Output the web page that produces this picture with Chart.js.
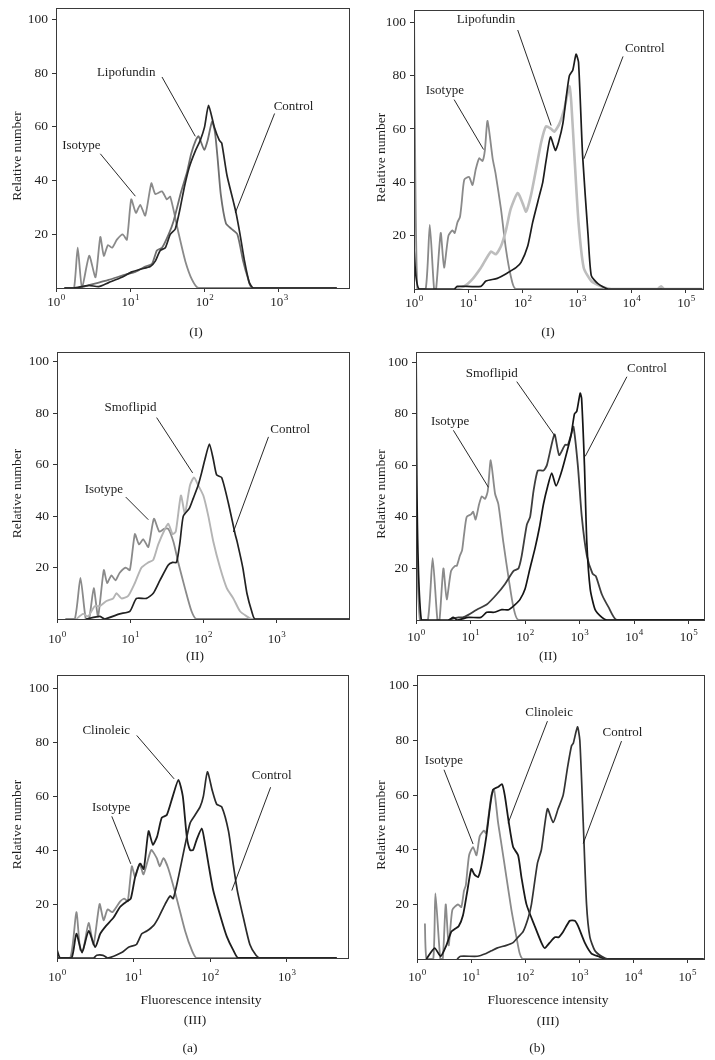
<!DOCTYPE html>
<html>
<head>
<meta charset="utf-8">
<script src="https://cdn.jsdelivr.net/npm/chart.js@4.4.0/dist/chart.umd.min.js"></script>
<style>
  body { margin: 0; background: #fff; width: 715px; height: 1060px; position: relative; overflow: hidden; }
  canvas { position: absolute; }
</style>
</head>
<body>
<canvas id="a1"></canvas>
<canvas id="b1"></canvas>
<canvas id="a2"></canvas>
<canvas id="b2"></canvas>
<canvas id="a3"></canvas>
<canvas id="b3"></canvas>
<script>
// tick values
const aTicks = [1, 10, 100, 1000];
const bTicks = [1, 10, 100, 1000, 10000, 100000];
const yTicks = [20, 40, 60, 80, 100];

// (a) I - Lipofundin
const a1IsoX = [1.3, 1.5, 1.75, 1.96, 2.24, 2.8, 3.4, 3.95, 4.4, 5.0, 5.7, 6.6, 7.9, 9.0, 10.3, 11.9, 13.6, 15.9, 19.2, 21.7, 26.7, 31, 34.5, 45, 55, 68, 83, 6000];
const a1IsoY = [0, 0, 0, 15, 0, 12, 4, 19, 12, 16, 15, 18, 20, 18, 33, 28, 31, 27, 39, 35, 36, 33, 34, 20, 10, 3, 0, 0];
const a1LipoX = [1.3, 2.0, 2.75, 5.1, 8.6, 11.7, 15.9, 19.6, 22.8, 26.7, 32.8, 38.3, 48.5, 57.8, 66, 76, 83, 99, 110, 126, 138, 150, 165, 194, 230, 276, 330, 380, 437, 6000];
const a1LipoY = [0, 0, 1, 3, 5, 6, 8, 9, 14, 15, 20, 25, 36, 43, 50, 55, 56.5, 51.5, 55, 62, 58, 48, 35, 24, 22, 20, 10, 4, 0, 0];
const a1CtrlX = [1.3, 1.73, 2.75, 3.75, 5.1, 7.7, 10.5, 13.6, 18.6, 21.7, 25.3, 29.6, 34.5, 40.3, 47.1, 53.8, 62.2, 74.9, 87.4, 100, 113, 135, 158, 170, 200, 245, 265, 300, 345, 400, 456, 6000];
const a1CtrlY = [0, 0, 1, 0.5, 2, 4, 6, 7, 8, 10, 14, 15, 20, 22, 30, 38, 45, 51, 55, 60, 68, 60, 55, 54, 42, 32, 28, 20, 10, 2, 0, 0];

// (b) I - Lipofundin
const b1IsoX = [1, 1.15, 1.64, 1.95, 2.34, 2.55, 3.1, 3.57, 4.3, 5.1, 5.6, 6.3, 7.0, 7.5, 8.4, 10.3, 11.9, 13.7, 15.8, 18.2, 20.1, 22.5, 27.9, 31.8, 39.7, 49, 60, 74.5, 200000];
const b1IsoY = [105, 0, 0, 24, 0, 0, 21, 8, 20, 22, 21, 25, 27, 32, 41, 42, 39, 45, 49, 48, 52, 63, 49, 43, 30, 15, 5, 0, 0];
const b1LipoX = [5.5, 8.3, 11.1, 17, 25.9, 32, 39.7, 49, 60, 80.7, 100, 115, 141, 176, 218, 268, 332, 382, 473, 588, 720, 780, 890, 1060, 1320, 1820, 2770, 4250, 30000, 35000, 40000, 200000];
const b1LipoY = [0, 1, 3, 8, 14, 13, 16, 22, 30, 36, 32, 29, 35, 45, 55, 61, 60, 59, 62, 68, 76, 70, 50, 25, 8, 3, 1, 0, 0, 1, 0, 0];
const b1CtrlX = [1, 1.24, 5.5, 6.2, 17, 21, 34, 52, 75, 93, 123, 152, 202, 233, 268, 323, 398, 454, 546, 630, 720, 830, 955, 1060, 1260, 1590, 1820, 2410, 3700, 200000];
const b1CtrlY = [15, 0, 0, 1, 1, 3, 4, 6, 8, 10, 16, 25, 35, 40, 48, 57, 52, 55, 62, 72, 80, 82, 88, 85, 50, 20, 5, 2, 0, 0];

// (a) II - Smoflipid
const a2IsoX = [1.3, 1.75, 2.09, 2.47, 2.75, 3.18, 3.64, 4.36, 4.84, 5.55, 6.3, 7.2, 8.7, 9.9, 11.6, 13.2, 15.1, 17.7, 21.1, 25, 29, 33.2, 39, 45.4, 56, 69, 81, 10000];
const a2IsoY = [0, 0, 16, 0, 0, 12, 1, 19, 14, 17, 15, 18, 20, 19, 33, 29, 31, 28, 39, 34, 35, 35, 30, 22, 12, 3, 0, 0];
const a2SmofX = [1.84, 2.27, 2.66, 3.28, 3.84, 4.74, 5.85, 6.5, 7.6, 9.4, 11.6, 14.3, 17.7, 20.7, 24.2, 29.9, 33.2, 38, 42, 49.4, 56, 65.7, 74.5, 85, 100, 117, 137, 169, 209, 257, 317, 394, 458, 10000];
const a2SmofY = [0, 2, 1, 5, 5, 7, 8, 10, 8, 9, 14, 20, 22, 23, 29, 35, 37, 33, 34, 48, 41, 52, 55, 52, 48, 40, 30, 20, 12, 8, 3, 1, 0, 0];
const a2CtrlX = [2.5, 3.84, 4.5, 7.2, 9.9, 12.2, 16.7, 20.7, 25.5, 33.2, 38, 43, 48, 53.2, 64.3, 73, 85, 95, 105, 121, 137, 152, 178, 220, 272, 290, 346, 394, 458, 510, 10000];
const a2CtrlY = [0, 1, 0, 2, 3, 8, 8, 10, 15, 21, 22, 22, 30, 40, 43, 47, 52, 57, 62, 68, 62, 56, 55, 45, 33, 30, 20, 10, 3, 0, 0];

// (b) II - Smoflipid
const b2IsoX = [1, 1.18, 1.65, 2.02, 2.47, 2.7, 3.18, 3.66, 4.39, 5.2, 5.6, 6.4, 7.0, 7.6, 8.5, 10.2, 11.2, 12.4, 14.4, 16.1, 18.5, 20.7, 23.5, 28.2, 32.4, 40.1, 51, 61.2, 75.8, 200000];
const b2IsoY = [36, 0, 0, 24, 0, 0, 20, 8, 19, 21, 21, 25, 27, 33, 40, 41, 42, 39, 45, 48, 47, 50, 62, 49, 45, 30, 15, 5, 0, 0];
const b2SmofX = [3.9, 6.0, 7.2, 9.1, 13, 19.8, 30.3, 43, 61.2, 75.7, 87, 108, 124, 143, 171, 218, 251, 347, 422, 544, 610, 702, 774, 930, 1100, 1360, 1730, 1990, 2560, 3400, 4830, 200000];
const b2SmofY = [0, 1, 1, 2, 4, 6, 10, 14, 19, 20, 25, 37, 40, 50, 58, 58, 60, 72, 64, 68, 68, 72, 75, 60, 40, 25, 18, 17, 10, 5, 0, 0];
const b2CtrlX = [1, 1.25, 4.0, 4.8, 5.7, 9.1, 15.5, 19.8, 27, 37.4, 50, 65.7, 81, 100, 123, 153, 184, 218, 261, 309, 371, 459, 583, 702, 807, 890, 1026, 1090, 1230, 1360, 1570, 1930, 2570, 3170, 200000];
const b2CtrlY = [105, 0, 0, 1, 0, 1, 1, 3, 3, 4, 4, 6, 8, 12, 20, 28, 36, 45, 52, 57, 52, 57, 65, 72, 80, 81, 88, 86, 60, 30, 12, 4, 1, 0, 0];

// (a) III - Clinoleic
const a3IsoX = [1, 1.49, 1.79, 2.01, 2.2, 2.59, 3.0, 3.6, 4.06, 4.58, 5.3, 6.7, 7.6, 8.4, 9.5, 10.5, 12, 13.5, 17, 20.1, 22, 24.6, 28.6, 36.7, 47.2, 57.6, 67, 4500];
const a3IsoY = [0, 0, 17, 3, 3, 13, 5, 20, 14, 18, 17, 21, 22, 21, 34, 30, 35, 31, 40, 37, 34, 37, 33, 22, 10, 3, 0, 0];
const a3ClinX = [1, 1.1, 1.55, 1.79, 2.12, 2.59, 3.16, 3.67, 4.4, 5.48, 6.7, 8.2, 9.2, 10.5, 12.2, 13.6, 15.7, 17.9, 20.3, 23.4, 27.2, 32.6, 38.6, 44, 49.6, 54.8, 60, 67, 77.9, 84, 95, 110, 138, 165, 200, 234, 4500];
const a3ClinY = [3, 0, 0, 9, 2, 10, 4, 9, 12, 15, 19, 21, 22, 30, 35, 33, 47, 42, 45, 52, 53, 60, 66, 60, 45, 40, 40, 44, 48, 44, 35, 25, 15, 8, 3, 0, 0];
const a3CtrlX = [1, 3.0, 3.3, 4.0, 4.6, 7.0, 8.6, 10.9, 12.8, 14.9, 18.2, 21.2, 25.9, 30.1, 33, 38.6, 47.2, 54.8, 63.7, 74, 81.8, 92.3, 107, 122, 142, 174, 200, 227, 272, 331, 398, 449, 4500];
const a3CtrlY = [0, 0, 1, 1, 0, 2, 4, 5, 9, 10, 12, 15, 20, 23, 22, 30, 42, 50, 53, 56, 60, 69, 62, 57, 56, 47, 35, 25, 15, 5, 1, 0, 0];

// (b) III - Clinoleic
const b3IsoX = [1.4, 1.5, 2.0, 2.19, 2.7, 3.0, 3.4, 3.86, 4.51, 5.74, 6.6, 7.4, 8.0, 9.2, 10.9, 12.6, 14.5, 17.4, 19, 23.8, 26.7, 31.6, 36.5, 45.1, 55.8, 69.2, 79.6, 91.8, 200000];
const b3IsoY = [13, 0, 0, 24, 0, 0, 20, 5, 18, 20, 19, 25, 27, 38, 41, 38, 45, 47, 46, 60, 62, 50, 42, 30, 18, 8, 2, 0, 0];
const b3ClinX = [1.49, 2.12, 2.74, 3.49, 4.32, 4.99, 5.9, 7.1, 8.55, 10.1, 11.5, 13.5, 15.5, 19.2, 22.2, 25.5, 31.6, 37.5, 42, 49.9, 60, 74.2, 85.5, 106, 151, 200, 231, 286, 354, 420, 506, 671, 832, 957, 1270, 1690, 2250, 3200, 200000];
const b3ClinY = [0, 4, 1, 5, 10, 11, 12, 16, 25, 33, 31, 30, 34, 45, 55, 62, 63, 64, 60, 50, 41, 38, 30, 20, 12, 6, 4, 6, 8, 8, 10, 14, 14, 12, 6, 2, 1, 0, 0];
const b3CtrlX = [5.5, 6.4, 13, 19, 23.8, 30, 45, 60, 74.2, 91.8, 114, 131, 169, 200, 259, 330, 408, 506, 608, 721, 780, 931, 1030, 1190, 1370, 1580, 1960, 2590, 3440, 200000];
const b3CtrlY = [0, 1, 1, 2, 3, 4, 5, 6, 8, 10, 15, 20, 35, 40, 55, 50, 55, 60, 70, 78, 79, 85, 80, 50, 20, 8, 3, 1, 0, 0];

const FONT = '"Liberation Serif", "DejaVu Serif", serif';
const ISO = '#8a8a8a';

const panels = [
  { id: 'a1', left: 0, top: 0, width: 357, height: 345, box: [56, 8, 350, 288], xMax: 9060, yMax: 104.3, ticks: aTicks, tickDy: 15, titleX: 17,
    caps: [['(I)', 196, 332]],
    series: [
      [a1IsoX, a1IsoY, ISO, 1.8],
      [a1LipoX, a1LipoY, '#6e6e6e', 1.8],
      [a1CtrlX, a1CtrlY, '#262626', 1.7]
    ],
    notes: [
      ['Lipofundin', [8.8, 80.4], [26.7, 78.6], [75, 56.5]],
      ['Control', [1575, 67.7], [875, 65], [259, 28]],
      ['Isotype', [2.19, 53], [3.95, 50], [11.7, 34.2]]
    ] },
  { id: 'b1', left: 357, top: 0, width: 358, height: 345, box: [414, 10, 704, 289], xMax: 215000, yMax: 104.6, ticks: bTicks, tickDy: 15, titleX: 381,
    caps: [['(I)', 548, 332]],
    series: [
      [b1IsoX, b1IsoY, ISO, 1.8],
      [b1LipoX, b1LipoY, '#bdbdbd', 2.6],
      [b1CtrlX, b1CtrlY, '#1c1c1c', 1.7]
    ],
    notes: [
      ['Lipofundin', [21, 100.9], [80.7, 97.1], [332, 61.3]],
      ['Control', [17500, 90.3], [6980, 87.2], [1330, 48.8]],
      ['Isotype', [3.68, 74.5], [5.47, 71], [19, 52.3]]
    ] },
  { id: 'a2', left: 0, top: 345, width: 357, height: 325, box: [57, 352, 350, 619], xMax: 10100, yMax: 103.8, ticks: aTicks, tickDy: 21, titleX: 17,
    caps: [['(II)', 195, 656]],
    series: [
      [a2IsoX, a2IsoY, ISO, 1.8],
      [a2SmofX, a2SmofY, '#b4b4b4', 1.9],
      [a2CtrlX, a2CtrlY, '#222222', 1.7]
    ],
    notes: [
      ['Smoflipid', [10.1, 82], [23, 78.3], [71.4, 56.8]],
      ['Control', [1540, 73.8], [777, 70.8], [257, 33.8]],
      ['Isotype', [4.36, 50.3], [8.7, 47.4], [17.7, 38.6]]
    ] },
  { id: 'b2', left: 357, top: 345, width: 358, height: 325, box: [416, 352, 705, 620], xMax: 200000, yMax: 104, ticks: bTicks, tickDy: 18, titleX: 381,
    caps: [['(II)', 548, 656]],
    series: [
      [b2IsoX, b2IsoY, ISO, 1.8],
      [b2SmofX, b2SmofY, '#3e3e3e', 1.8],
      [b2CtrlX, b2CtrlY, '#151515', 1.7]
    ],
    notes: [
      ['Smoflipid', [24.5, 95.7], [70.5, 92.5], [356, 71.3]],
      ['Control', [17200, 97.7], [7380, 94.4], [1270, 63.5]],
      ['Isotype', [4.21, 76.9], [4.85, 73.6], [21.3, 51.5]]
    ] },
  { id: 'a3', left: 0, top: 670, width: 357, height: 390, box: [57, 675, 349, 958], xMax: 6530, yMax: 104.9, ticks: aTicks, tickDy: 20, titleX: 17,
    caps: [['Fluorescence intensity', 201, 1000], ['(III)', 195, 1020], ['(a)', 190, 1048]],
    series: [
      [a3IsoX, a3IsoY, ISO, 1.8],
      [a3ClinX, a3ClinY, '#1e1e1e', 1.8],
      [a3CtrlX, a3CtrlY, '#2a2a2a', 1.7]
    ],
    notes: [
      ['Clinoleic', [4.4, 84.3], [11, 82.5], [33.9, 66.4]],
      ['Control', [637, 67.7], [618, 63.3], [192, 25]],
      ['Isotype', [5.1, 55.6], [5.2, 52.5], [9.2, 34.9]]
    ] },
  { id: 'b3', left: 357, top: 670, width: 358, height: 390, box: [417, 675, 705, 959], xMax: 213000, yMax: 104, ticks: bTicks, tickDy: 19, titleX: 381,
    caps: [['Fluorescence intensity', 548, 1000], ['(III)', 548, 1021], ['(b)', 537, 1048]],
    series: [
      [b3IsoX, b3IsoY, ISO, 1.8],
      [b3ClinX, b3ClinY, '#1a1a1a', 1.8],
      [b3CtrlX, b3CtrlY, '#333333', 1.7]
    ],
    notes: [
      ['Clinoleic', [278, 90.4], [259, 87.1], [48.4, 49.7]],
      ['Control', [6330, 82.8], [6080, 79.8], [1190, 42.3]],
      ['Isotype', [3.16, 72.6], [3.16, 69.3], [10.9, 42.1]]
    ] }
];

function makeChart(p) {
  const canvas = document.getElementById(p.id);
  canvas.width = p.width;
  canvas.height = p.height;
  canvas.style.left = p.left + 'px';
  canvas.style.top = p.top + 'px';
  const [bl, bt, br, bb] = p.box;

  const decor = {
    id: 'decor',
    afterDraw(chart) {
      const ctx = chart.ctx, a = chart.chartArea;
      const xs = chart.scales.x, ys = chart.scales.y;
      ctx.save();
      // frame round the plot
      ctx.strokeStyle = '#3a3a3a';
      ctx.lineWidth = 1;
      ctx.strokeRect(a.left + 0.5, a.top + 0.5, a.right - a.left - 1, a.bottom - a.top);

      ctx.fillStyle = '#1e1e1e';
      // x tick labels 10^n
      ctx.textBaseline = 'middle';
      ctx.textAlign = 'left';
      xs.ticks.forEach(t => {
        const px = xs.getPixelForValue(t.value);
        const exp = String(Math.round(Math.log10(t.value)));
        ctx.font = '13px ' + FONT;
        const w1 = ctx.measureText('10').width;
        ctx.font = '9px ' + FONT;
        const w2 = ctx.measureText(exp).width;
        const x0 = px - (w1 + w2) / 2;
        const y = a.bottom + p.tickDy;
        ctx.font = '13px ' + FONT;
        ctx.fillText('10', x0, y);
        ctx.font = '9px ' + FONT;
        ctx.fillText(exp, x0 + w1 + 0.5, y - 5);
      });

      // y axis title
      ctx.font = '13.5px ' + FONT;
      ctx.textAlign = 'center';
      ctx.save();
      ctx.translate(p.titleX - p.left, (bt + bb) / 2 + 8 - p.top);
      ctx.rotate(-Math.PI / 2);
      ctx.fillText('Relative number', 0, 0);
      ctx.restore();

      // captions under the panel
      p.caps.forEach(([txt, cx, cy]) => {
        ctx.fillText(txt, cx - p.left, cy - p.top);
      });

      // curve labels with leader lines
      ctx.font = '13px ' + FONT;
      ctx.strokeStyle = '#111';
      ctx.lineWidth = 0.9;
      p.notes.forEach(([txt, at, from, to]) => {
        ctx.fillText(txt, xs.getPixelForValue(at[0]), ys.getPixelForValue(at[1]));
        ctx.beginPath();
        ctx.moveTo(xs.getPixelForValue(from[0]), ys.getPixelForValue(from[1]));
        ctx.lineTo(xs.getPixelForValue(to[0]), ys.getPixelForValue(to[1]));
        ctx.stroke();
      });
      ctx.restore();
    }
  };

  // top-most curve first, Chart.js draws dataset 0 last
  const datasets = p.series.slice().reverse().map(([xv, yv, color, w]) => ({
    data: xv.map((x, i) => ({ x, y: yv[i] })),
    borderColor: color,
    borderWidth: w,
    pointRadius: 0,
    tension: 0.2,
    fill: false,
    borderJoinStyle: 'round'
  }));

  new Chart(canvas, {
    type: 'line',
    data: { datasets },
    options: {
      responsive: false,
      animation: false,
      layout: { padding: { left: 0, bottom: 0, top: bt - p.top, right: p.left + p.width - br } },
      plugins: { legend: { display: false }, tooltip: { enabled: false } },
      scales: {
        x: {
          type: 'logarithmic',
          min: 1,
          max: p.xMax,
          afterBuildTicks: s => { s.ticks = p.ticks.map(v => ({ value: v })); },
          afterFit: s => { s.height = p.top + p.height - bb; s.paddingLeft = 0; s.paddingRight = 0; },
          ticks: { display: false },
          grid: { display: true, drawOnChartArea: false, drawTicks: true, tickLength: 4, color: '#333' },
          border: { display: false }
        },
        y: {
          min: 0,
          max: p.yMax,
          afterBuildTicks: s => { s.ticks = yTicks.map(v => ({ value: v })); },
          afterFit: s => { s.width = bl - p.left; s.paddingTop = 0; s.paddingBottom = 0; },
          ticks: { color: '#1e1e1e', padding: 4, font: { family: FONT, size: 13.5 } },
          grid: { display: true, drawOnChartArea: false, drawTicks: true, tickLength: 4, color: '#333' },
          border: { display: false }
        }
      }
    },
    plugins: [decor]
  });
}

panels.forEach(makeChart);
</script>
</body>
</html>
